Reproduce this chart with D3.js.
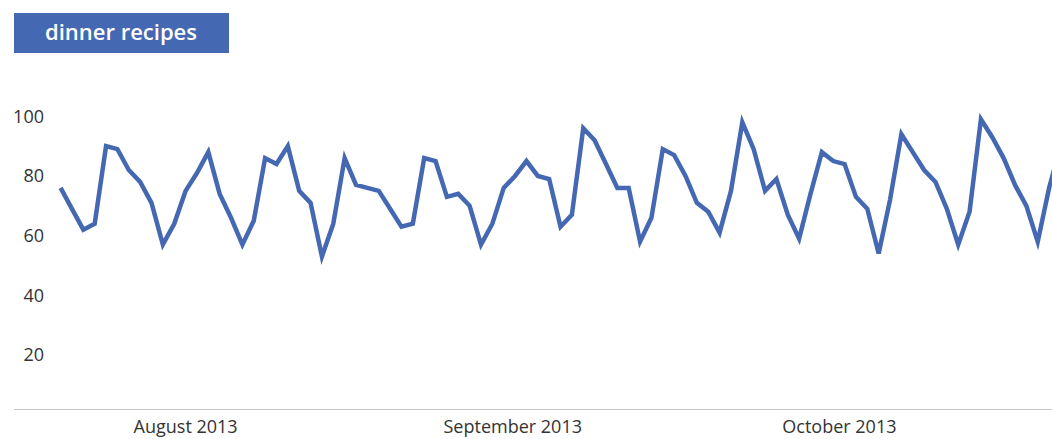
<!DOCTYPE html>
<html lang="en">
<head>
	<meta charset="utf-8">
	<title>dinner recipes</title>
	<script src="https://cdn.jsdelivr.net/npm/d3@7"></script>
	<style>
		body { margin: 0; background: #fff; font-family: "Open Sans", sans-serif; }
		.axis text { font-family: "Open Sans", sans-serif; font-size: 18px; fill: #333; }
	</style>
</head>
<body>
	<div id="chart"></div>
	<script>
		// daily search interest, starting Wed 24 July 2013
		const startDate = "2013-07-24";
		const values = [
			76, 69, 62, 64, 90, 89, 82, 78, 71, 57, 64, 75, 81, 88,
			74, 66, 57, 65, 86, 84, 90, 75, 71, 53, 64, 86, 77, 76,
			75, 69, 63, 64, 86, 85, 73, 74, 70, 57, 64, 76, 80, 85,
			80, 79, 63, 67, 96, 92, 84, 76, 76, 58, 66, 89, 87, 80,
			71, 68, 61, 75, 98, 89, 75, 79, 67, 59, 74, 88, 85, 84,
			73, 69, 54, 72, 94, 88, 82, 78, 69, 57, 68, 99, 93, 86,
			77, 70, 58, 76, 90
		];
		const yTicks = [20, 40, 60, 80, 100];
		const monthLabels = ["August 2013", "September 2013", "October 2013"];
		// label positions as they sit in the reference
		const monthTickDates = ["2013-08-03T23:00", "2013-09-01T18:00", "2013-09-30T12:00"];
		const title = "dinner recipes";

		const W = 1052, H = 439;
		const lineColor = "#4568b2";

		const parse = d3.isoParse;
		const day0 = parse(startDate);
		const data = values.map((v, i) => ({ date: d3.timeDay.offset(day0, i), value: v }));

		const svg = d3.select("#chart").append("svg")
			.attr("width", W)
			.attr("height", H);

		// scales
		const step = 11.362, x0 = 60.6;
		const x = d3.scaleTime()
			.domain([data[0].date, data[data.length - 1].date])
			.range([x0, x0 + step * (data.length - 1)]);
		const y = d3.scaleLinear()
			.domain([0, 100])
			.range([414.7, 116.3]);

		// title box
		const tg = svg.append("g").attr("transform", "translate(14,13)");
		tg.append("rect")
			.attr("width", 215)
			.attr("height", 40)
			.attr("fill", lineColor);
		tg.append("text")
			.attr("x", 107)
			.attr("y", 27)
			.attr("text-anchor", "middle")
			.attr("fill", "#fff")
			.style("font-family", "'Open Sans', sans-serif")
			.style("font-size", "22px")
			.style("font-weight", 600)
			.text(title);

		// baseline
		svg.append("line")
			.attr("x1", 14).attr("x2", W)
			.attr("y1", 409.5).attr("y2", 409.5)
			.attr("stroke", "#c4c4c4")
			.attr("stroke-width", 1);

		// y axis
		const yAxis = svg.append("g")
			.attr("class", "axis")
			.attr("transform", "translate(47,0)")
			.call(d3.axisLeft(y).tickValues(yTicks).tickSize(0).tickPadding(3));
		yAxis.select(".domain").remove();

		// x axis
		const xAxis = svg.append("g")
			.attr("class", "axis")
			.attr("transform", "translate(0,409)")
			.call(d3.axisBottom(x)
				.tickValues(monthTickDates.map(parse))
				.tickFormat((d, i) => monthLabels[i])
				.tickSize(0)
				.tickPadding(11));
		xAxis.select(".domain").remove();

		// the line
		svg.append("path")
			.datum(data)
			.attr("fill", "none")
			.attr("stroke", lineColor)
			.attr("stroke-width", 4.5)
			.attr("stroke-linejoin", "miter")
			.attr("d", d3.line()
				.x(d => x(d.date))
				.y(d => y(d.value)));
	</script>
</body>
</html>
